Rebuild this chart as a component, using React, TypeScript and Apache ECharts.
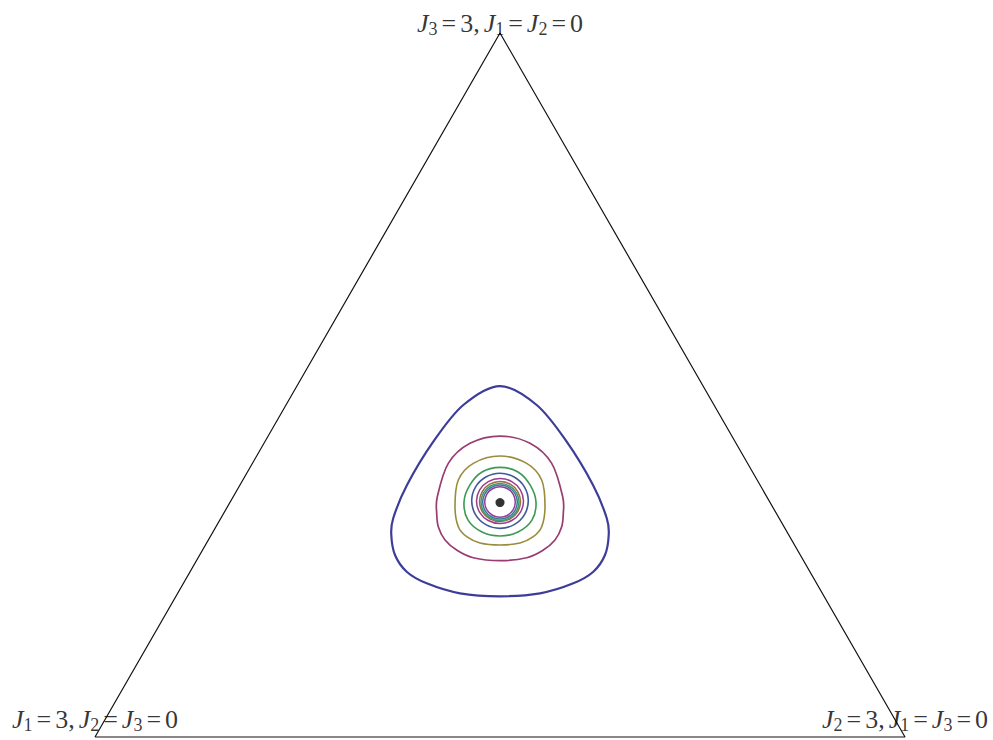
import React, { useEffect, useRef } from "react";
import * as echarts from "echarts";

// Triangle in its own plane: J1 corner bottom-left, J2 corner bottom-right, J3 corner top
const TRI_H = 1.5 * Math.sqrt(3);
const triangle: number[][] = [[0, 0], [3, 0], [1.5, TRI_H], [0, 0]];

const vertexLabels = [
  { name: "top", value: [1.5, TRI_H], text: "{i|J}{s|3}{e|=}{c|3,}{i|J}{s|1}{e|=}{i|J}{s|2}{e|=}{n|0}", offset: [0, -10] },
  { name: "left", value: [0, 0], text: "{i|J}{s|1}{e|=}{c|3,}{i|J}{s|2}{e|=}{i|J}{s|3}{e|=}{n|0}", offset: [0, -18] },
  { name: "right", value: [3, 0], text: "{i|J}{s|2}{e|=}{c|3,}{i|J}{s|1}{e|=}{i|J}{s|3}{e|=}{n|0}", offset: [0, -18] },
];

const ring1 = [[1.5,0.5192],[1.6481,0.5303],[1.7715,0.5672],[1.8456,0.61],[1.8889,0.6716],[1.9026,0.7454],[1.8952,0.8081],[1.8444,0.9299],[1.747,1.0897],[1.6359,1.2251],[1.5,1.2952],[1.3641,1.2251],[1.253,1.0897],[1.1556,0.9299],[1.1048,0.8081],[1.0974,0.7454],[1.1111,0.6716],[1.1544,0.61],[1.2285,0.5672],[1.3519,0.5303]];
const ring2 = [[1.5,0.6506],[1.5989,0.6616],[1.6604,0.69],[1.7037,0.7269],[1.7285,0.776],[1.7344,0.8255],[1.7322,0.8867],[1.6915,1.01],[1.6111,1.0838],[1.5,1.1107],[1.3889,1.0838],[1.3085,1.01],[1.2678,0.8867],[1.2656,0.8255],[1.2715,0.776],[1.2963,0.7269],[1.3396,0.69],[1.4011,0.6616]];
const ring3 = [[1.5,0.7085],[1.5741,0.7159],[1.6233,0.7391],[1.6544,0.776],[1.6667,0.8498],[1.6544,0.9483],[1.5989,1.01],[1.5,1.0369],[1.4011,1.01],[1.3456,0.9483],[1.3333,0.8498],[1.3456,0.776],[1.3767,0.7391],[1.4259,0.7159]];
const ring4 = [[1.6333,0.8672],[1.612,0.9293],[1.5667,0.978],[1.5,0.9952],[1.4333,0.978],[1.388,0.9293],[1.3667,0.8672],[1.3811,0.8013],[1.4333,0.7564],[1.5,0.7418],[1.5667,0.7564],[1.6189,0.8013]];
const ring5 = [[1.6048,0.8716],[1.5908,0.9224],[1.5524,0.9595],[1.5,0.9731],[1.4476,0.9595],[1.4092,0.9224],[1.3952,0.8716],[1.4092,0.8208],[1.4476,0.7837],[1.5,0.7701],[1.5524,0.7837],[1.5908,0.8208]];
const ring6 = [[1.587,0.8708],[1.5753,0.9123],[1.5435,0.9427],[1.5,0.9538],[1.4565,0.9427],[1.4247,0.9123],[1.413,0.8708],[1.4247,0.8293],[1.4565,0.7989],[1.5,0.7878],[1.5435,0.7989],[1.5753,0.8293]];
const ring7 = [[1.5759,0.869],[1.5657,0.9059],[1.538,0.9329],[1.5,0.9428],[1.462,0.9329],[1.4343,0.9059],[1.4241,0.869],[1.4343,0.8321],[1.462,0.8051],[1.5,0.7952],[1.538,0.8051],[1.5657,0.8321]];
const ring8 = [[1.5704,0.8672],[1.561,0.9013],[1.5352,0.9263],[1.5,0.9355],[1.4648,0.9263],[1.439,0.9013],[1.4296,0.8672],[1.439,0.8331],[1.4648,0.8081],[1.5,0.7989],[1.5352,0.8081],[1.561,0.8331]];
const ring9 = [[1.5641,0.8672],[1.5555,0.8986],[1.532,0.9215],[1.5,0.9299],[1.468,0.9215],[1.4445,0.8986],[1.4359,0.8672],[1.4445,0.8358],[1.468,0.8129],[1.5,0.8045],[1.532,0.8129],[1.5555,0.8358]];
const ring10 = [[1.5567,0.8672],[1.5491,0.8954],[1.5283,0.9161],[1.5,0.9237],[1.4717,0.9161],[1.4509,0.8954],[1.4433,0.8672],[1.4509,0.839],[1.4717,0.8183],[1.5,0.8107],[1.5283,0.8183],[1.5491,0.839]];

const rings = [ring1, ring2, ring3, ring4, ring5, ring6, ring7, ring8, ring9, ring10];
const ringColors = ["#3d3d99", "#993d71", "#998c3d", "#3d9956", "#3d5a99", "#993d90", "#996d3d", "#3d9974", "#3d7899", "#8e3d99"];
const ringWidths = [2.2, 1.7, 1.6, 1.6, 1.6, 1.5, 1.5, 1.5, 1.5, 1.5];

const centerPoint = [[1.5, 0.865]];

const FONT = "'Liberation Serif', 'Times New Roman', serif";

// closed smooth path through the pixel positions of a ring's points
function closedPath(pts: number[][]): string {
  const n = pts.length;
  const f = (v: number) => v.toFixed(2);
  let d = `M${f(pts[0][0])},${f(pts[0][1])}`;
  for (let i = 0; i < n; i++) {
    const p0 = pts[(i - 1 + n) % n];
    const p1 = pts[i];
    const p2 = pts[(i + 1) % n];
    const p3 = pts[(i + 2) % n];
    const c1x = p1[0] + (p2[0] - p0[0]) / 6;
    const c1y = p1[1] + (p2[1] - p0[1]) / 6;
    const c2x = p2[0] - (p3[0] - p1[0]) / 6;
    const c2y = p2[1] - (p3[1] - p1[1]) / 6;
    d += `C${f(c1x)},${f(c1y)} ${f(c2x)},${f(c2y)} ${f(p2[0])},${f(p2[1])}`;
  }
  return d + "Z";
}

export default function App() {
  const ref = useRef<HTMLDivElement>(null);
  useEffect(() => {
    if (!ref.current) return;
    const chart = echarts.init(ref.current, null, { renderer: "svg" });
    const base = { fontFamily: FONT, color: "#000", fontSize: 26, lineHeight: 28 };
    const rich = {
      i: { ...base, fontStyle: "italic" },
      n: { ...base },
      c: { ...base, padding: [0, 4, 0, 0] },
      e: { ...base, padding: [0, 4, 0, 4] },
      s: { ...base, fontSize: 18, lineHeight: 20, padding: [12, 0, 0, 0] },
    };
    chart.setOption({
      animation: false,
      backgroundColor: "#ffffff",
      grid: { left: 95, right: 88, top: 33, bottom: 3 },
      xAxis: { type: "value", min: 0, max: 3, show: false },
      yAxis: { type: "value", min: 0, max: TRI_H, show: false },
      series: [
        {
          type: "line",
          data: triangle,
          symbol: "none",
          clip: false,
          silent: true,
          lineStyle: { color: "#111", width: 1.2 },
          z: 1,
        },
        ...rings.map((r, k) => ({
          type: "custom",
          data: r,
          silent: true,
          clip: false,
          z: 2,
          renderItem: (params: any, api: any) => {
            if (params.dataIndex !== 0) return null;
            const px = r.map((p) => api.coord(p));
            return {
              type: "path",
              shape: { pathData: closedPath(px) },
              style: { fill: "none", stroke: ringColors[k], lineWidth: ringWidths[k] },
            };
          },
        })),
        {
          type: "scatter",
          data: centerPoint,
          symbol: "circle",
          symbolSize: 9,
          itemStyle: { color: "#000" },
          silent: true,
          clip: false,
          z: 3,
        },
        {
          type: "scatter",
          data: vertexLabels.map((v) => ({
            name: v.name,
            value: v.value,
            label: {
              show: true,
              position: "inside",
              offset: v.offset,
              formatter: v.text,
              rich,
            },
          })),
          symbolSize: 0,
          silent: true,
          clip: false,
          z: 4,
        },
      ],
    });
    return () => chart.dispose();
  }, []);
  return (
    <div
      ref={ref}
      style={{ position: "fixed", left: 0, top: 0, width: 993, height: 740, background: "#fff" }}
    />
  );
}
